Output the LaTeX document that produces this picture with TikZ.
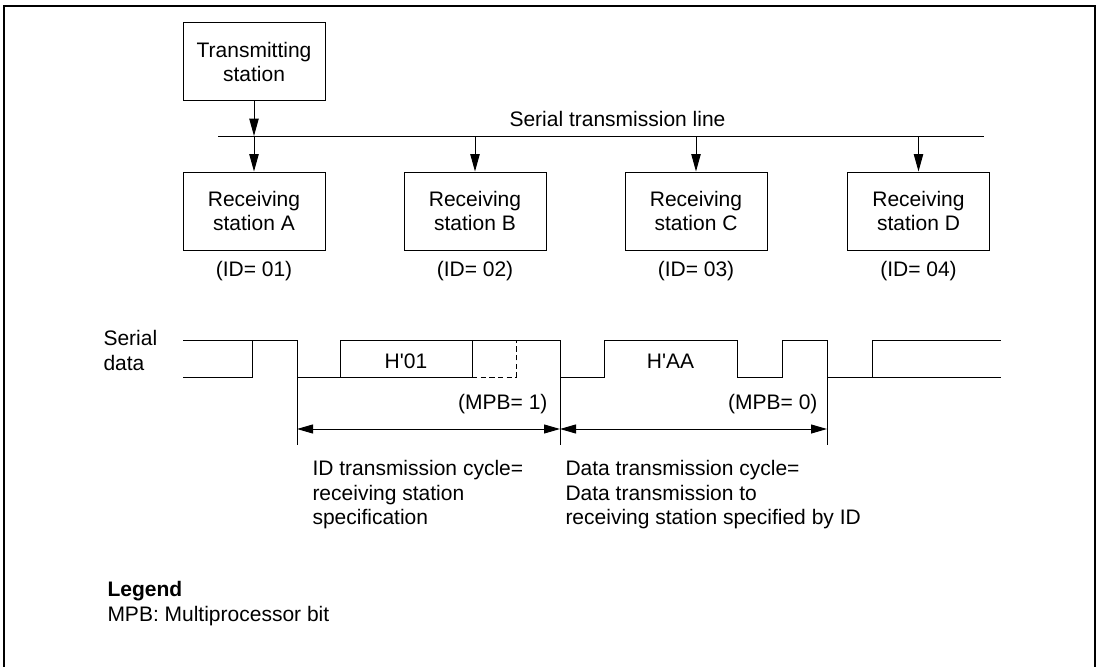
\documentclass[tikz,border=0pt]{standalone}
\usepackage{fontspec}
\setmainfont{Liberation Sans}[Ligatures=TeXOff]
\usetikzlibrary{arrows.meta}
\begin{document}
\begin{tikzpicture}[x=0.75pt,y=-0.75pt,
  font=\fontsize{15.75}{18}\selectfont,
  line width=0.75pt,
  station/.style={draw, line width=0.75pt, minimum width=106.5pt, minimum height=58.5pt, align=center, inner sep=0pt},
  lbl/.style={inner sep=0pt},
  arr/.style={-{Triangle[length=13pt,width=7pt]}},
  dimarr/.style={{Triangle[length=12pt,width=6.75pt]}-{Triangle[length=12pt,width=6.75pt]}},
  frame/.style={line width=1.1pt},
]
\useasboundingbox (0,0) rectangle (1100,667);
\draw[frame] (4,667) -- (4,6) -- (1095,6) -- (1095,667);

% stations
\node[station] (tx) at (254,62) {Transmitting\\station};
\node[station] (rA) at (254,211) {Receiving\\station A};
\node[station] (rB) at (475,211) {Receiving\\station B};
\node[station] (rC) at (696,211) {Receiving\\station C};
\node[station] (rD) at (918.5,211) {Receiving\\station D};

% bus
\coordinate (busL) at (218,136);
\coordinate (busR) at (984,136);
\draw (busL) -- (busR);
\node[lbl, anchor=base] (busname) at (617.5,127) {Serial transmission line};
\coordinate (bA) at (rA.north |- busL);
\coordinate (bB) at (rB.north |- busL);
\coordinate (bC) at (rC.north |- busL);
\coordinate (bD) at (rD.north |- busL);
\draw[arr] (tx.south) -- (bA);
\draw[arr] (bA) -- (rA.north);
\draw[arr] (bB) -- (rB.north);
\draw[arr] (bC) -- (rC.north);
\draw[arr] (bD) -- (rD.north);

\node[lbl, anchor=base] (idA) at (254,276) {(ID= 01)};
\node[lbl, anchor=base] (idB) at (475,276) {(ID= 02)};
\node[lbl, anchor=base] (idC) at (696,276) {(ID= 03)};
\node[lbl, anchor=base] (idD) at (918.5,276) {(ID= 04)};

% serial data
\node[lbl, anchor=base west] (sd1) at (103,345) {Serial};
\node[lbl, anchor=base west] (sd2) at (103,370) {data};

\draw (183,340) -- (297,340) -- (297,377) -- (340,377) -- (340,340) -- (560,340)
      -- (560,377) -- (604,377) -- (604,340) -- (737,340) -- (737,377) -- (782,377)
      -- (782,340) -- (827,340) -- (827,377) -- (872,377) -- (872,340) -- (1001,340);
\draw (183,377) -- (252,377) -- (252,340);
\draw (340,377) -- (472,377) -- (472,340);
\draw[dash pattern=on 4pt off 2.5pt] (472,377) -- (516,377) -- (516,340);
\draw (872,377) -- (1001,377);

\node[lbl, anchor=base] (h01) at (406,368) {H\char"27 01};
\node[lbl, anchor=base] (haa) at (670.5,368) {H\char"27 AA};

% dimension lines
\coordinate (e1) at (297,377);
\coordinate (e2) at (560,377);
\coordinate (e3) at (827,377);
\coordinate (e1b) at (297,445);
\coordinate (e2b) at (560,445);
\coordinate (e3b) at (827,445);
\draw (e1) -- (e1b);
\draw (e2) -- (e2b);
\draw (e3) -- (e3b);
\coordinate (d1) at (297,429);
\coordinate (d2) at (560,429);
\coordinate (d3) at (827,429);
\draw[dimarr] (d1) -- (d2);
\draw[dimarr] (d2) -- (d3);

\node[lbl, anchor=base east] (mpb1) at (548,409) {(MPB= 1)};
\node[lbl, anchor=base east] (mpb0) at (818,409) {(MPB= 0)};

\node[lbl, anchor=base west] (idt1) at (312,475) {ID transmission cycle=};
\node[lbl, anchor=base west] (idt2) at (312,500) {receiving station};
\node[lbl, anchor=base west] (idt3) at (312,524) {specification};

\node[lbl, anchor=base west] (dt1) at (565,475) {Data transmission cycle=};
\node[lbl, anchor=base west] (dt2) at (565,500) {Data transmission to};
\node[lbl, anchor=base west] (dt3) at (565,524) {receiving station specified by ID};

% legend
\node[lbl, anchor=base west] (leg) at (107,596) {\bfseries Legend};
\node[lbl, anchor=base west] (legt) at (107,621) {MPB: Multiprocessor bit};
\end{tikzpicture}
\end{document}
